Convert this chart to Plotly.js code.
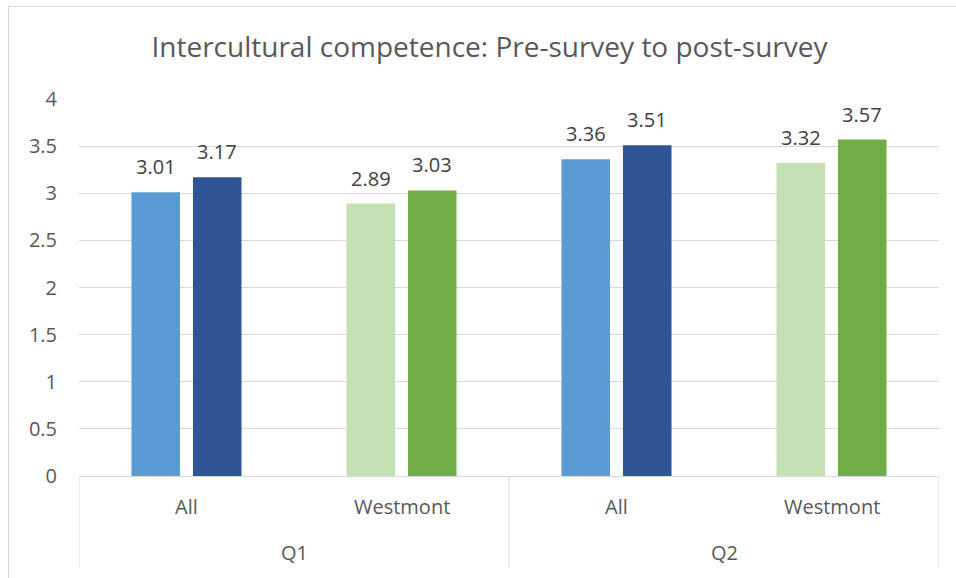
<!DOCTYPE html>
<html>
<head>
<meta charset="utf-8">
<script src="https://cdn.plot.ly/plotly-3.0.1.min.js"></script>
<style>
  html, body { margin: 0; padding: 0; width: 956px; height: 578px; overflow: hidden; background: #fff; }
  #frame { position: absolute; left: 8px; top: 6px; width: 970px; height: 600px; border: 1px solid #d9d9d9; box-sizing: border-box; }
  #chart { position: absolute; left: 0; top: 0; width: 956px; height: 578px; }
</style>
</head>
<body>
<div id="frame"></div>
<div id="chart"></div>
<script>
// Data
const questions = ["Q1", "Q1", "Q2", "Q2"];
const groups = ["All", "Westmont", "All", "Westmont"];
const preValues = [3.01, 2.89, 3.36, 3.32];
const postValues = [3.17, 3.03, 3.51, 3.57];
const preColors = ["#5B9BD5", "#C5E0B4", "#5B9BD5", "#C5E0B4"];
const postColors = ["#2F5597", "#70AD47", "#2F5597", "#70AD47"];
const yTicks = [0, 0.5, 1, 1.5, 2, 2.5, 3, 3.5, 4];
const titleText = "Intercultural competence: Pre-survey to post-survey";

const fontFamily = "'Open Sans', 'Liberation Sans', sans-serif";
const gridColor = "#d9d9d9";
const textColor = "#595959";
const labelColor = "#404040";

const BARGAP = 0.428;
const BARGROUPGAP = 0.21;

// category keys, one per (question, group) pair
const cats = questions.map((q, i) => q + " " + groups[i]);

const traces = [
  {
    type: "bar", name: "Pre-survey",
    x: cats, y: preValues,
    marker: { color: preColors },
    hoverinfo: "skip"
  },
  {
    type: "bar", name: "Post-survey",
    x: cats, y: postValues,
    marker: { color: postColors },
    hoverinfo: "skip"
  }
];

// Value labels above bars (positions derived from category index and bar layout)
const slotOffset = (1 - BARGAP) / 4;
const annotations = [];
preValues.forEach((v, i) => annotations.push({
  x: i - slotOffset, y: v, xref: "x", yref: "y",
  text: v.toFixed(2), showarrow: false, yanchor: "bottom", yshift: 10,
  font: { family: fontFamily, size: 20, color: labelColor }
}));
postValues.forEach((v, i) => annotations.push({
  x: i + slotOffset, y: v, xref: "x", yref: "y",
  text: v.toFixed(2), showarrow: false, yanchor: "bottom", yshift: 10,
  font: { family: fontFamily, size: 20, color: labelColor }
}));

// Multi-level category labels
groups.forEach((g, i) => annotations.push({
  x: i, y: -0.082, xref: "x", yref: "paper",
  text: g, showarrow: false, yanchor: "middle",
  font: { family: fontFamily, size: 20, color: textColor }
}));
const uniqueQ = [...new Set(questions)];
uniqueQ.forEach(q => {
  const idx = questions.map((qq, i) => qq === q ? i : -1).filter(i => i >= 0);
  const mid = (idx[0] + idx[idx.length - 1]) / 2;
  annotations.push({
    x: mid, y: -0.204, xref: "x", yref: "paper",
    text: q, showarrow: false, yanchor: "middle",
    font: { family: fontFamily, size: 20, color: textColor }
  });
});

// Dividers between question groups
const shapes = [];
const dividerPositions = [-0.5];
uniqueQ.forEach(q => {
  const last = questions.lastIndexOf(q);
  dividerPositions.push(last + 0.5);
});
dividerPositions.forEach(x => shapes.push({
  type: "line", xref: "x", yref: "paper",
  x0: x, x1: x, y0: 0, y1: -0.245,
  line: { color: gridColor, width: 1 }
}));

const layout = {
  width: 956, height: 578,
  margin: { l: 79, r: 17, t: 99, b: 102 },
  paper_bgcolor: "rgba(0,0,0,0)",
  plot_bgcolor: "rgba(0,0,0,0)",
  showlegend: false,
  barmode: "group",
  bargap: BARGAP,
  bargroupgap: BARGROUPGAP,
  title: {
    text: titleText,
    font: { family: fontFamily, size: 28, color: textColor },
    x: 0.512, xanchor: "center", xref: "container",
    y: 0.918, yanchor: "middle", yref: "container"
  },
  xaxis: {
    type: "category",
    showticklabels: false,
    showline: true, linecolor: gridColor, linewidth: 1,
    ticks: "", showgrid: false, zeroline: false,
    range: [-0.5, 3.5]
  },
  yaxis: {
    range: [0, 4],
    tickvals: yTicks,
    ticktext: yTicks.map(v => String(v)),
    tickfont: { family: fontFamily, size: 20, color: textColor },
    showgrid: true, gridcolor: gridColor, gridwidth: 1,
    zeroline: false, showline: false, ticks: "",
    ticklabelstandoff: 21
  },
  annotations: annotations,
  shapes: shapes,
  font: { family: fontFamily }
};

Plotly.newPlot("chart", traces, layout, { displayModeBar: false, staticPlot: true });
</script>
</body>
</html>
